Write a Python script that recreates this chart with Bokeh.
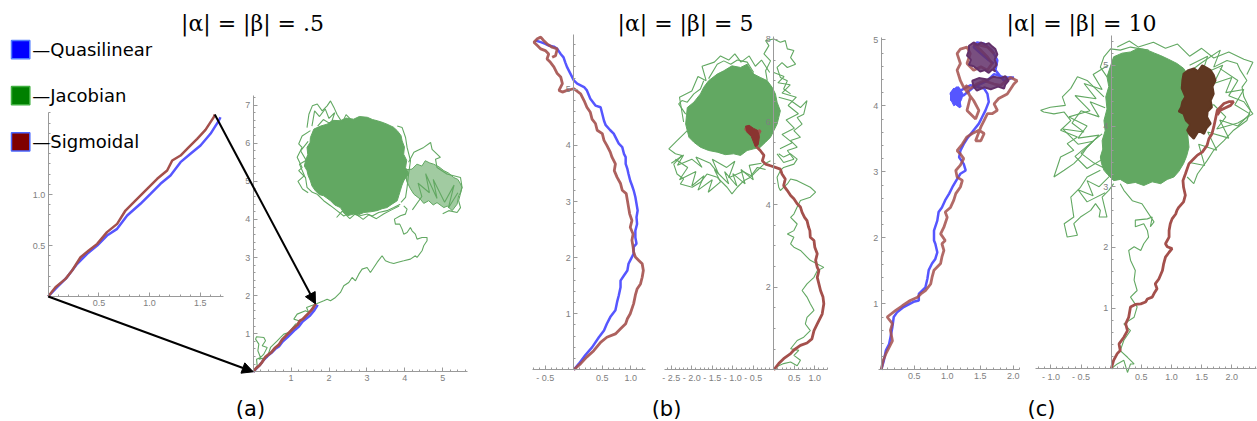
from bokeh.plotting import figure
from bokeh.models import (Range1d, LinearAxis, FixedTicker, Arrow, NormalHead, Label)
from bokeh.embed import file_html
from bokeh.resources import INLINE

W, H = 1257, 421

# ---------------------------------------------------------------- data
# (a)  |alpha| = |beta| = .5   (also shown enlarged in the inset)
A_BLUE_X = [0, 0.088, 0.187, 0.286, 0.384, 0.483, 0.58, 0.68, 0.779, 0.91, 1.009,
            1.107, 1.206, 1.305, 1.403, 1.502, 1.6, 1.683, 1.699]
A_BLUE_Y = [0, 0.091, 0.19, 0.32, 0.418, 0.5, 0.598, 0.663, 0.794, 0.909, 1.007,
            1.105, 1.186, 1.317, 1.399, 1.48, 1.595, 1.725, 1.758]
A_RED_X = [0, 0.072, 0.171, 0.236, 0.319, 0.40, 0.483, 0.58, 0.68, 0.762, 0.845,
           0.976, 1.075, 1.173, 1.223, 1.305, 1.387, 1.469, 1.551, 1.633, 1.643]
A_RED_Y = [0, 0.091, 0.173, 0.255, 0.385, 0.451, 0.516, 0.631, 0.712, 0.843, 0.925,
           1.056, 1.154, 1.235, 1.333, 1.382, 1.464, 1.546, 1.634, 1.758, 1.784]
A_GREEN_X = [0, 0.105, 0.088, 0.193, 0.123, 0.149, 0.062, 0.088, 0.281, 0.325,
             0.237, 0.369, 0.281, 0.149, 0.369, 0.457, 0.633, 0.721, 0.808, 0.94,
             1.116, 1.248, 1.204, 1.072, 1.16, 1.38, 1.467, 1.406, 1.599, 1.687,
             1.863, 1.951, 2.039, 2.171, 2.302, 2.39, 2.522, 2.61, 2.698, 2.786,
             2.873, 3.005, 3.093, 3.181, 3.269, 3.401, 3.489, 3.603, 3.708, 3.796,
             3.972, 4.148, 4.279, 4.323, 4.455, 4.499, 4.587, 4.587, 4.455, 4.323,
             4.279, 4.192, 4.148, 4.06, 3.972, 3.928, 3.866, 3.752, 3.726, 3.884,
             4.016, 4.06, 3.972]
A_GREEN_Y = [0, 0.157, 0.332, 0.376, 0.551, 0.726, 0.857, 0.919, 0.901, 0.814,
             0.682, 0.639, 0.464, 0.332, 0.376, 0.639, 0.814, 0.901, 0.989, 1.032,
             1.251, 1.269, 1.339, 1.382, 1.514, 1.601, 1.557, 1.689, 1.759, 1.794,
             1.864, 1.907, 1.864, 1.951, 2.082, 2.257, 2.345, 2.476, 2.388, 2.563,
             2.695, 2.738, 2.607, 2.738, 2.87, 3.045, 2.913, 2.87, 2.843, 2.87,
             2.913, 2.957, 3.045, 3.001, 3.176, 3.307, 3.438, 3.526, 3.526, 3.482,
             3.613, 3.701, 3.788, 3.657, 3.613, 3.745, 3.876, 3.876, 4.007, 4.094,
             4.138, 4.269, 4.357]
A_CORE_X = [1.60, 1.78, 1.95, 2.10, 2.30, 2.45, 2.65, 2.80, 3.01, 3.15, 3.27, 3.40,
            3.53, 3.70, 3.80, 3.90, 3.93, 3.99, 3.97, 4.05, 4.02, 4.10, 3.97, 3.92,
            3.88, 3.84, 3.80, 3.66, 3.53, 3.40, 3.27, 3.10, 2.92, 2.78, 2.65, 2.50,
            2.39, 2.30, 2.15, 2.04, 1.86, 1.75, 1.64, 1.55, 1.51, 1.45, 1.42, 1.35,
            1.38, 1.44, 1.42, 1.50, 1.51]
A_CORE_Y = [6.37, 6.45, 6.50, 6.60, 6.59, 6.66, 6.63, 6.70, 6.68, 6.62, 6.59, 6.55,
            6.50, 6.42, 6.33, 6.20, 6.06, 5.90, 5.71, 5.55, 5.36, 5.20, 5.01, 4.88,
            4.75, 4.62, 4.49, 4.40, 4.31, 4.28, 4.23, 4.20, 4.18, 4.12, 4.14, 4.10,
            4.18, 4.31, 4.38, 4.49, 4.62, 4.65, 4.75, 4.88, 5.01, 5.15, 5.28, 5.40,
            5.54, 5.70, 5.89, 6.02, 6.15]
A_SUB_X = [4.02, 4.19, 4.32, 4.45, 4.54, 4.66, 4.76, 4.90, 5.03, 5.15, 5.29, 5.40,
           5.47, 5.51, 5.47, 5.42, 5.38, 5.25, 5.12, 5.03, 4.85, 4.75, 4.63, 4.50,
           4.41, 4.24, 4.15, 4.05]
A_SUB_Y = [5.30, 5.32, 5.45, 5.40, 5.54, 5.48, 5.45, 5.38, 5.28, 5.22, 5.10, 5.05,
           4.93, 4.84, 4.70, 4.62, 4.40, 4.23, 4.35, 4.31, 4.44, 4.38, 4.49, 4.42,
           4.53, 4.66, 4.80, 5.00]
A_FRINGE_XS = [
    [1.42, 1.47, 1.56, 1.69, 1.82, 1.95, 2.04, 2.13, 2.21, 2.35, 2.45, 2.60],
    [1.55, 1.62, 1.75, 1.90, 2.00, 2.15, 2.05, 1.85, 1.70],
    [1.51, 1.29, 1.20, 1.29, 1.16, 1.29, 1.20, 1.38, 1.42, 1.56, 1.69],
    [1.69, 1.86, 2.04, 2.21, 2.39, 2.57, 2.79, 3.01, 3.14, 3.31, 3.53, 3.71, 3.88],
    [3.80, 3.93, 4.02, 4.06, 4.15, 4.10, 4.06, 4.02, 3.90],
    [4.10, 4.24, 4.32, 4.50, 4.68, 4.72, 4.94, 4.81, 4.85, 5.11, 5.47, 5.51, 5.42,
     5.47, 5.38, 5.16, 5.00],
    [1.45, 1.25, 1.40, 1.22, 1.35, 1.18, 1.30, 1.45],
    [2.20, 2.35, 2.55, 2.70, 2.90, 3.05, 3.25, 3.45, 3.65, 3.85],
    [4.20, 4.45, 4.35, 4.65, 4.55, 4.85, 4.75, 5.05, 5.30, 5.15, 5.40],
]
A_FRINGE_YS = [
    [6.41, 6.76, 6.98, 7.03, 6.85, 6.98, 7.11, 6.94, 6.76, 6.54, 6.75, 6.60],
    [6.45, 6.85, 6.70, 6.90, 6.65, 6.80, 6.50, 6.62, 6.45],
    [6.33, 6.19, 5.98, 5.89, 5.63, 5.36, 5.28, 5.10, 4.84, 4.71, 4.66],
    [4.66, 4.49, 4.36, 4.23, 4.09, 4.18, 4.09, 4.14, 4.09, 4.18, 4.23, 4.31, 4.40],
    [6.45, 6.41, 6.15, 5.89, 5.54, 5.19, 4.84, 4.58, 4.45],
    [5.50, 5.76, 5.80, 5.89, 6.02, 5.84, 5.63, 5.58, 5.36, 5.19, 5.10, 4.84, 4.49,
     4.31, 4.18, 4.23, 4.15],
    [6.05, 5.80, 5.55, 5.45, 5.15, 5.00, 4.80, 4.70],
    [4.05, 4.22, 4.02, 4.15, 4.00, 4.12, 4.02, 4.15, 4.25, 4.35],
    [4.25, 4.60, 4.95, 4.70, 5.20, 4.55, 5.05, 4.45, 4.90, 4.30, 4.70],
]

# (b)  |alpha| = |beta| = 5
BL_BLUE_X = [0, 0.09, 0.20, 0.32, 0.44, 0.53, 0.58, 0.64, 0.73, 0.76, 0.79, 0.82,
             0.82, 0.88, 0.94, 0.96, 0.99, 1.05, 1.05, 1.10, 1.08, 1.08, 1.11, 1.10,
             1.12, 1.10, 1.08, 1.05, 1.02, 0.99, 0.96, 0.94, 0.91, 0.91, 0.88, 0.85,
             0.79, 0.76, 0.70, 0.64, 0.56, 0.53, 0.50, 0.47, 0.38, 0.29, 0.23, 0.18,
             0.06, 0.0, -0.06, -0.12, -0.15, -0.18, -0.23, -0.29, -0.35, -0.44,
             -0.50, -0.58, -0.67]
BL_BLUE_Y = [0, 0.11, 0.26, 0.40, 0.58, 0.70, 0.82, 0.94, 1.06, 1.21, 1.33, 1.47,
             1.59, 1.68, 1.77, 1.89, 1.95, 2.07, 2.19, 2.25, 2.36, 2.48, 2.60, 2.72,
             2.84, 2.96, 3.08, 3.20, 3.29, 3.37, 3.49, 3.58, 3.67, 3.79, 3.85, 3.97,
             4.03, 4.09, 4.21, 4.27, 4.36, 4.44, 4.56, 4.68, 4.71, 4.83, 4.98, 5.04,
             5.10, 5.16, 5.28, 5.40, 5.48, 5.57, 5.63, 5.72, 5.76, 5.78, 5.81, 5.84,
             5.87]
BL_RED_X = [0, 0.12, 0.23, 0.35, 0.47, 0.58, 0.73, 0.82, 0.91, 0.94, 0.99, 1.05,
            1.08, 1.11, 1.17, 1.20, 1.22, 1.20, 1.14, 1.08, 1.05, 1.04, 1.02, 1.04,
            0.99, 1.02, 0.98, 0.96, 0.94, 0.92, 0.85, 0.82, 0.76, 0.71, 0.73, 0.67,
            0.64, 0.58, 0.53, 0.50, 0.41, 0.38, 0.32, 0.29, 0.23, 0.18, 0.12, 0.0,
            -0.12, -0.20, -0.26, -0.20, -0.23, -0.29, -0.35, -0.41, -0.47, -0.44,
            -0.50, -0.58, -0.64, -0.70, -0.64, -0.58, -0.53, -0.47, -0.38, -0.29,
            -0.32, -0.38]
BL_RED_Y = [0, 0.11, 0.23, 0.34, 0.49, 0.58, 0.64, 0.73, 0.82, 0.91, 1.00, 1.18,
            1.33, 1.44, 1.53, 1.65, 1.77, 1.89, 1.95, 2.01, 2.10, 2.19, 2.31, 2.42,
            2.54, 2.66, 2.78, 2.90, 3.02, 3.14, 3.20, 3.32, 3.43, 3.55, 3.67, 3.79,
            3.88, 4.00, 4.09, 4.21, 4.27, 4.39, 4.47, 4.59, 4.68, 4.80, 4.92, 5.01,
            4.98, 4.95, 4.98, 5.10, 5.22, 5.28, 5.40, 5.48, 5.54, 5.63, 5.69, 5.72,
            5.78, 5.84, 5.90, 5.93, 5.87, 5.81, 5.75, 5.72, 5.60, 5.57]

BR_RED_X = [0, 0.12, 0.24, 0.41, 0.49, 0.65, 0.81, 0.93, 0.98, 1.06, 1.10, 1.18,
            1.22, 1.20, 1.14, 1.10, 1.06, 1.10, 1.06, 1.02, 1.06, 1.00, 0.98, 0.89,
            0.88, 0.85, 0.81, 0.75, 0.69, 0.65, 0.57, 0.49, 0.41, 0.33, 0.24, 0.28,
            0.20, 0.16, 0.04, -0.08, -0.20, -0.28, -0.24, -0.33, -0.41, -0.45, -0.39,
            -0.42, -0.37, -0.33, -0.49, -0.57, -0.65, -0.69, -0.61, -0.53]
BR_RED_Y = [0, 0.15, 0.27, 0.39, 0.48, 0.59, 0.65, 0.75, 0.95, 1.11, 1.19, 1.35,
            1.60, 1.76, 1.92, 2.08, 2.24, 2.40, 2.48, 2.65, 2.81, 2.97, 3.13, 3.21,
            3.37, 3.45, 3.61, 3.69, 3.81, 3.94, 4.02, 4.14, 4.22, 4.34, 4.46, 4.62,
            4.74, 4.86, 4.90, 4.94, 4.98, 5.06, 5.19, 5.31, 5.39, 5.47, 5.55, 5.65,
            5.71, 5.79, 5.75, 5.79, 5.87, 5.83, 5.75, 5.69]
BR_KNOT_X = [-0.69, -0.60, -0.50, -0.40, -0.35, -0.38, -0.45, -0.55, -0.65]
BR_KNOT_Y = [5.90, 5.92, 5.85, 5.80, 5.65, 5.45, 5.40, 5.65, 5.75]
BR_GREEN_X = [0, 0.12, 0.24, 0.41, 0.57, 0.65, 0.49, 0.61, 0.41, 0.57, 0.73, 0.89,
              0.77, 0.81, 0.98, 0.89, 0.81, 0.69, 0.81, 0.98, 1.06, 1.22, 1.06, 0.89,
              0.81, 0.65, 0.49, 0.41, 0.49, 0.33, 0.49, 0.57, 0.41, 0.49, 0.57, 0.65,
              0.89, 1.02, 0.89, 0.73, 0.57, 0.41, 0.33, 0.24, 0.16, 0.12, 0.08, 0.16,
              0.24, 0.49, 0.57, 0.41, 0.24, 0.12]
BR_GREEN_Y = [0, 0.10, 0.15, 0.19, 0.10, 0.23, 0.35, 0.47, 0.51, 0.71, 0.79, 0.95,
              1.11, 1.27, 1.44, 1.60, 1.76, 1.92, 2.08, 2.24, 2.40, 2.48, 2.56, 2.65,
              2.73, 2.89, 2.97, 3.05, 3.21, 3.29, 3.37, 3.53, 3.69, 3.77, 3.94, 4.10,
              4.18, 4.30, 4.42, 4.50, 4.58, 4.62, 4.50, 4.42, 4.34, 4.42, 4.66, 4.82,
              4.90, 4.98, 5.10, 5.23, 5.15, 5.23]
BR_CORE_X = [-2.11, -1.95, -1.79, -1.71, -1.59, -1.38, -1.22, -1.02, -0.81, -0.65,
             -0.49, -0.33, -0.16, -0.04, 0.04, 0.08, 0.16, 0.12, 0.08, 0.0, -0.08,
             -0.20, -0.33, -0.49, -0.65, -0.81, -0.98, -1.18, -1.38, -1.59, -1.79,
             -1.95, -2.07, -2.11, -2.15, -2.13]
BR_CORE_Y = [6.35, 6.48, 6.68, 6.84, 7.00, 7.16, 7.24, 7.36, 7.32, 7.40, 7.16, 7.08,
             7.00, 6.84, 6.68, 6.48, 6.27, 6.11, 5.95, 5.79, 5.63, 5.51, 5.39, 5.35,
             5.31, 5.19, 5.23, 5.21, 5.27, 5.31, 5.39, 5.51, 5.63, 5.79, 5.95, 6.15]
BR_FRINGE_XS = [
    [-0.16, -0.20, -0.08, -0.24, -0.12, -0.20, 0.0, 0.16, 0.28, 0.33, 0.49, 0.41,
     0.53, 0.33, 0.20, 0.08, 0.16, 0.33, 0.24, 0.41],
    [0.12, 0.41, 0.65, 0.81, 0.73, 0.57, 0.69, 0.49, 0.65, 0.41, 0.57, 0.33, 0.49,
     0.24, 0.08],
    [-2.11, -2.36, -2.56, -2.40, -2.24, -2.44, -2.36, -2.20, -2.28, -1.99, -1.79,
     -1.63, -1.38, -1.14, -1.02, -0.89, -0.73, -0.57, -0.41, -0.24, -0.08],
    [-2.15, -2.32, -2.24, -2.11, -1.95, -1.79, -1.71],
    [-1.59, -1.38, -1.22, -1.05, -0.89, -0.65, -0.49],
    [-2.40, -2.10, -2.30, -1.90, -2.00, -1.70, -1.85, -1.50, -1.60, -1.30, -1.45,
     -1.10, -1.20, -0.90, -1.00, -0.70, -0.80, -0.50, -0.60, -0.30],
    [-2.50, -2.20, -2.35, -2.00, -1.75, -1.90, -1.55, -1.35, -1.50, -1.15, -0.95,
     -1.10, -0.75, -0.55, -0.40, -0.20],
    [-2.20, -2.30, -2.00, -1.85, -1.65, -1.75, -1.45, -1.30, -1.10, -0.95, -0.80,
     -0.60, -0.45, -0.30, -0.10],
    [0.00, 0.25, 0.10, 0.40, 0.20, 0.55, 0.35, 0.60, 0.30, 0.50, 0.20, 0.45, 0.15],
]
BR_FRINGE_YS = [
    [7.00, 7.24, 7.48, 7.65, 7.85, 7.97, 8.01, 7.93, 7.97, 7.77, 7.73, 7.56, 7.40,
     7.32, 7.44, 7.32, 7.08, 7.00, 6.80, 6.68],
    [6.60, 6.52, 6.35, 6.52, 6.19, 6.11, 5.95, 5.79, 5.63, 5.55, 5.39, 5.31, 5.10,
     5.02, 5.23],
    [5.79, 5.55, 5.35, 5.23, 5.19, 4.98, 4.74, 4.62, 4.50, 4.42, 4.54, 4.74, 4.66,
     4.42, 4.26, 4.42, 4.58, 4.66, 4.82, 4.98, 5.06],
    [6.19, 6.44, 6.52, 6.48, 6.68, 6.80, 7.00],
    [7.05, 7.40, 7.48, 7.40, 7.50, 7.45, 7.20],
    [5.10, 4.90, 4.60, 4.80, 4.45, 4.70, 4.35, 4.60, 4.30, 4.55, 4.85, 4.50, 4.80,
     4.45, 4.75, 4.50, 4.85, 4.60, 4.95, 5.00],
    [5.00, 5.20, 4.95, 5.10, 4.90, 5.15, 5.00, 4.75, 5.10, 4.90, 5.05, 4.65, 4.80,
     4.70, 4.90, 4.85],
    [6.00, 6.60, 6.75, 7.10, 7.00, 7.35, 7.45, 7.60, 7.50, 7.65, 7.45, 7.60, 7.35,
     7.50, 7.20],
    [7.20, 7.10, 6.95, 6.90, 6.70, 6.60, 6.40, 6.20, 6.05, 5.85, 5.70, 5.50, 5.35],
]

# (c)  |alpha| = |beta| = 10
CL_BLUE_X = [0, 0.04, 0.07, 0.12, 0.14, 0.17, 0.19, 0.24, 0.34, 0.49, 0.57, 0.57,
             0.62, 0.67, 0.70, 0.72, 0.77, 0.82, 0.85, 0.82, 0.80, 0.80, 0.85, 0.87,
             0.92, 0.97, 1.03, 1.08, 1.15, 1.20, 1.28, 1.25, 1.18, 1.20, 1.25, 1.30,
             1.40, 1.48, 1.53, 1.58, 1.63, 1.61, 1.56, 1.35, 1.20, 1.15, 1.10, 1.08,
             1.13, 1.20, 1.18, 1.05, 1.13, 1.20, 1.10, 1.18, 1.08, 1.25, 1.40, 1.61,
             1.71, 1.86, 2.01, 1.86, 1.73, 1.76, 1.68, 1.56, 1.45, 1.40, 1.51, 1.63,
             1.71]
CL_BLUE_Y = [0, 0.14, 0.29, 0.39, 0.49, 0.65, 0.80, 0.87, 0.95, 1.03, 1.05, 1.15,
             1.20, 1.25, 1.38, 1.51, 1.61, 1.68, 1.78, 1.91, 1.96, 2.11, 2.26, 2.39,
             2.46, 2.57, 2.67, 2.77, 2.89, 2.97, 3.02, 3.12, 3.22, 3.32, 3.42, 3.50,
             3.63, 3.73, 3.83, 3.93, 4.06, 4.18, 4.26, 4.31, 4.23, 4.28, 4.21, 4.13,
             4.03, 3.98, 4.08, 4.18, 4.26, 4.13, 4.06, 4.01, 4.11, 4.16, 4.28, 4.38,
             4.48, 4.43, 4.43, 4.38, 4.54, 4.69, 4.84, 4.94, 4.96, 4.89, 4.79, 4.69,
             4.64]
CL_BLUE_BLOB_X = [1.05, 1.10, 1.13, 1.17, 1.20, 1.24, 1.22, 1.19, 1.18, 1.13, 1.10,
                  1.07, 1.05]
CL_BLUE_BLOB_Y = [4.20, 4.27, 4.24, 4.29, 4.25, 4.18, 4.10, 4.04, 3.98, 4.02, 4.00,
                  4.06, 4.08]
CL_RED_X = [0, 0.03, 0.07, 0.12, 0.17, 0.14, 0.17, 0.09, 0.22, 0.32, 0.44, 0.55,
            0.60, 0.67, 0.75, 0.77, 0.80, 0.90, 0.92, 0.95, 0.92, 0.97, 0.90, 0.95,
            1.00, 0.97, 1.05, 1.10, 1.13, 1.20, 1.23, 1.15, 1.13, 1.20, 1.25, 1.20,
            1.15, 1.23, 1.30, 1.38, 1.48, 1.56, 1.51, 1.43, 1.51, 1.56, 1.61, 1.68,
            1.76, 1.71, 1.78, 1.91, 2.01, 2.06, 1.96, 1.81, 1.71, 1.56, 1.45, 1.35,
            1.28, 1.35, 1.30, 1.43, 1.48, 1.40, 1.25, 1.20, 1.15, 1.20, 1.15, 1.20,
            1.30, 1.35, 1.30, 1.40, 1.51, 1.61, 1.68, 1.61, 1.51, 1.40, 1.61, 1.71]
CL_RED_Y = [0, 0.14, 0.24, 0.34, 0.44, 0.60, 0.70, 0.80, 0.90, 0.97, 1.05, 1.10,
            1.15, 1.20, 1.30, 1.40, 1.51, 1.61, 1.71, 1.81, 1.91, 1.96, 2.06, 2.16,
            2.31, 2.39, 2.46, 2.57, 2.67, 2.77, 2.87, 2.92, 3.02, 3.10, 3.20, 3.27,
            3.32, 3.42, 3.53, 3.58, 3.63, 3.58, 3.47, 3.47, 3.68, 3.78, 3.88, 3.88,
            3.93, 4.03, 4.11, 4.18, 4.33, 4.38, 4.43, 4.31, 4.33, 4.38, 4.33, 4.26,
            4.31, 4.13, 3.93, 3.80, 3.93, 4.08, 4.28, 4.38, 4.54, 4.64, 4.79, 4.86,
            4.89, 4.79, 4.64, 4.54, 4.59, 4.54, 4.64, 4.74, 4.84, 4.94, 4.89, 4.79]
CL_KNOT_XS = [[1.33, 1.40, 1.46, 1.51, 1.58, 1.63, 1.68, 1.73, 1.76, 1.72, 1.75, 1.70,
               1.73, 1.68, 1.63, 1.57, 1.50, 1.45, 1.40, 1.33, 1.36, 1.30, 1.33],
              [1.38, 1.48, 1.61, 1.70, 1.81, 1.88, 1.93, 1.88, 1.86, 1.77, 1.66, 1.56,
               1.45, 1.40]]
CL_KNOT_YS = [[4.91, 4.96, 4.92, 4.96, 4.93, 4.95, 4.90, 4.86, 4.78, 4.70, 4.62, 4.56,
               4.52, 4.55, 4.50, 4.54, 4.52, 4.56, 4.60, 4.62, 4.70, 4.76, 4.84],
              [4.38, 4.42, 4.40, 4.44, 4.42, 4.45, 4.38, 4.32, 4.26, 4.29, 4.25, 4.28,
               4.23, 4.29]]

CR_RED_X = [0, 0.04, 0.10, 0.15, 0.13, 0.21, 0.27, 0.24, 0.29, 0.32, 0.40, 0.49,
            0.57, 0.60, 0.68, 0.71, 0.76, 0.73, 0.79, 0.85, 0.87, 0.90, 0.96, 1.01,
            0.93, 0.90, 0.96, 0.96, 0.98, 1.01, 1.07, 1.09, 1.12, 1.20, 1.23, 1.20,
            1.19, 1.23, 1.29, 1.37, 1.43, 1.51, 1.59, 1.62, 1.67, 1.70, 1.73, 1.76,
            1.81, 1.87, 1.95, 2.03, 1.98, 1.81, 1.76]
CR_RED_Y = [0, 0.14, 0.25, 0.30, 0.41, 0.52, 0.63, 0.74, 0.85, 1.02, 1.06, 1.07,
            1.10, 1.15, 1.18, 1.24, 1.32, 1.40, 1.48, 1.62, 1.73, 1.84, 1.92, 1.98,
            2.01, 2.06, 2.17, 2.28, 2.39, 2.47, 2.55, 2.61, 2.66, 2.75, 2.86, 2.99,
            3.10, 3.21, 3.38, 3.46, 3.52, 3.57, 3.68, 3.79, 3.87, 3.98, 4.12, 4.26,
            4.31, 4.37, 4.40, 4.40, 4.34, 4.26, 4.18]
CR_KNOT_X = [1.20, 1.28, 1.37, 1.44, 1.51, 1.58, 1.65, 1.70, 1.73, 1.68, 1.70, 1.65,
             1.67, 1.60, 1.59, 1.65, 1.58, 1.54, 1.45, 1.37, 1.30, 1.26, 1.31, 1.24,
             1.20, 1.12, 1.16, 1.18, 1.23, 1.17, 1.18]
CR_KNOT_Y = [4.86, 4.92, 4.95, 4.90, 5.00, 4.96, 4.92, 4.84, 4.75, 4.65, 4.53, 4.42,
             4.31, 4.24, 4.15, 4.04, 3.96, 3.87, 3.92, 3.79, 3.86, 3.93, 4.02, 4.09,
             4.20, 4.24, 4.31, 4.40, 4.48, 4.62, 4.75]
CR_GREEN_X = [0, 0.10, 0.21, 0.27, 0.32, 0.38, 0.27, 0.15, 0.21, 0.32, 0.21, 0.38,
              0.43, 0.32, 0.43, 0.38, 0.40, 0.32, 0.29, 0.38, 0.49, 0.54, 0.62, 0.60,
              0.54, 0.40, 0.40, 0.60, 0.68, 0.65, 0.71, 0.51, 0.35, 0.21, 0.15]
CR_GREEN_Y = [0, 0.08, 0.14, -0.06, 0.08, 0.08, 0.19, 0.30, 0.47, 0.63, 0.74, 0.85,
              1.02, 1.18, 1.29, 1.46, 1.62, 1.79, 1.95, 2.01, 1.95, 2.06, 2.17, 2.28,
              2.39, 2.34, 2.45, 2.47, 2.50, 2.34, 2.42, 2.72, 2.77, 2.94, 3.05]
CR_CORE_X = [0.04, 0.18, 0.32, 0.45, 0.60, 0.72, 0.82, 0.95, 1.09, 1.20, 1.26, 1.24,
             1.29, 1.33, 1.31, 1.27, 1.29, 1.25, 1.20, 1.12, 1.04, 0.93, 0.82, 0.68,
             0.54, 0.40, 0.27, 0.15, 0.04, -0.06, -0.12, -0.16, -0.18, -0.14, -0.15,
             -0.10, -0.12, -0.07, -0.09, -0.04, -0.07]
CR_CORE_Y = [5.14, 5.20, 5.22, 5.28, 5.25, 5.20, 5.16, 5.10, 5.03, 4.95, 4.86, 4.68,
             4.48, 4.25, 4.04, 3.85, 3.65, 3.50, 3.38, 3.25, 3.16, 3.12, 3.05, 3.08,
             3.02, 3.07, 3.05, 3.12, 3.10, 3.20, 3.27, 3.38, 3.49, 3.62, 3.76, 3.92,
             4.09, 4.28, 4.48, 4.65, 4.81]
CR_FRINGE_XS = [
    [-0.07, -0.18, -0.12, -0.01, 0.15, 0.32, 0.49, 0.62],
    [-0.12, -0.40, -0.56, -0.67, -0.81, -0.76, -1.01, -1.17, -1.12, -0.95, -0.78,
     -0.67, -0.84, -0.56, -0.73, -0.62, -0.84, -0.95, -0.78, -0.62, -0.51, -0.40,
     -0.29, -0.15],
    [-0.18, -0.40, -0.51, -0.67, -0.62, -0.78, -0.73, -0.56, -0.62, -0.51, -0.34,
     -0.26, -0.18, -0.20, -0.07, -0.15, -0.04, 0.04],
    [1.26, 1.48, 1.81, 1.70, 1.92, 2.09, 2.14, 2.25, 2.17, 2.20, 2.31, 2.25, 2.03,
     1.87, 1.70, 1.59, 1.43, 1.37, 1.26],
    [-0.05, -0.30, -0.15, -0.45, -0.25, -0.60, -0.35, -0.70, -0.40, -0.55, -0.20,
     -0.50, -0.30, -0.10],
    [-0.10, -0.35, -0.20, -0.50, -0.65, -0.45, -0.80, -0.55, -0.30, -0.60, -0.40,
     -0.15],
    [0.00, -0.20, -0.40, -0.30, -0.55, -0.40, -0.10],
    [1.30, 1.60, 1.50, 1.85, 1.70, 2.00, 1.90, 2.20, 2.05, 2.30, 2.10, 1.80, 1.95,
     1.60, 1.75, 1.45, 1.55, 1.30],
    [1.30, 1.55, 1.40, 1.70, 1.90, 1.75, 2.10, 2.35, 2.20, 1.95, 2.10, 1.80],
    [0.10, 0.30, 0.45, 0.70, 0.90, 1.10, 1.30, 1.50, 1.70, 1.95, 2.20, 2.35, 2.25],
]
CR_FRINGE_YS = [
    [4.81, 4.97, 5.14, 5.27, 5.25, 5.30, 5.27, 5.25],
    [4.48, 4.75, 4.81, 4.62, 4.48, 4.34, 4.31, 4.26, 4.23, 4.20, 4.23, 4.09, 3.93,
     3.82, 3.71, 3.60, 3.49, 3.16, 3.27, 3.38, 3.49, 3.65, 3.76, 3.87],
    [3.27, 3.16, 2.99, 2.83, 2.50, 2.39, 2.17, 2.20, 2.39, 2.50, 2.61, 2.72, 2.61,
     2.50, 2.50, 2.83, 2.94, 3.05],
    [4.86, 5.03, 5.25, 4.97, 5.08, 5.03, 4.92, 4.75, 4.64, 4.48, 4.26, 4.09, 3.93,
     3.76, 3.60, 3.43, 3.21, 3.05, 3.16],
    [5.00, 4.85, 4.60, 4.70, 4.45, 4.50, 4.25, 4.15, 4.00, 3.80, 3.85, 3.55, 3.40,
     3.30],
    [4.30, 4.40, 4.15, 4.25, 4.05, 3.90, 3.95, 3.70, 3.75, 3.50, 3.30, 3.45],
    [3.20, 3.00, 3.10, 2.85, 2.95, 2.75, 2.90],
    [5.00, 5.15, 4.85, 5.00, 4.70, 4.80, 4.55, 4.60, 4.35, 4.20, 4.00, 4.10, 3.80,
     3.90, 3.60, 3.70, 3.35, 3.40],
    [4.60, 4.50, 4.30, 4.35, 4.15, 3.95, 4.05, 4.20, 4.40, 4.50, 4.75, 4.95],
    [5.30, 5.40, 5.30, 5.38, 5.28, 5.35, 5.15, 5.28, 5.12, 5.22, 5.10, 5.05, 4.85],
]

# axis ticks and their labels
A_XTICKS, A_XLABELS = [1, 2, 3, 4, 5], ["1", "2", "3", "4", "5"]
A_YTICKS, A_YLABELS = [1, 2, 3, 4, 5, 6, 7], ["1", "2", "3", "4", "5", "6", "7"]
AIN_XTICKS, AIN_XLABELS = [0.5, 1.0, 1.5], ["0.5", "1.0", "1.5"]
AIN_YTICKS, AIN_YLABELS = [0.5, 1.0], ["0.5", "1.0"]
BL_XTICKS, BL_XLABELS = [-0.5, 0.5, 1.0], ["- 0.5", "0.5", "1.0"]
BL_YTICKS, BL_YLABELS = [1, 2, 3, 4, 5], ["1", "2", "3", "4", "5"]
BR_XTICKS = [-2.5, -2.0, -1.5, -1.0, -0.5, 0.5, 1.0]
BR_XLABELS = ["- 2.5", "- 2.0", "- 1.5", "- 1.0", "- 0.5", "0.5", "1.0"]
BR_YTICKS, BR_YLABELS = [2, 4, 6, 8], ["2", "4", "6", "8"]
CL_XTICKS, CL_XLABELS = [0.5, 1.0, 1.5, 2.0], ["0.5", "1.0", "1.5", "2.0"]
CL_YTICKS, CL_YLABELS = [1, 2, 3, 4, 5], ["1", "2", "3", "4", "5"]
CR_XTICKS = [-1.0, -0.5, 0.5, 1.0, 1.5, 2.0]
CR_XLABELS = ["- 1.0", "- 0.5", "0.5", "1.0", "1.5", "2.0"]
CR_YTICKS, CR_YLABELS = [1, 2, 3, 4, 5], ["1", "2", "3", "4", "5"]

TITLES = ["|α| = |β| = .5", "|α| = |β| = 5", "|α| = |β| = 10"]
PANEL_TAGS = ["(a)", "(b)", "(c)"]
SERIES = ["—Quasilinear", "—Jacobian", "—Sigmoidal"]
KEY_FILL = ["#0000ff", "#008000", "#800000"]
KEY_EDGE = ["#4f7dff", "#3fb03f", "#4a66ff"]

# ---------------------------------------------------------------- styling
GREEN = "#62a862"
BLUE = "#5656ff"
RED = "#a4504c"
AXIS_C = "#9a9a9a"

# placement of each small plot: origin (px) and pixels per unit
PANELS = {
    "ain": (47.7, 296.0, 101.4, 102.0),
    "a": (252.7, 371.3, 37.9, 38.1),
    "bl": (573.3, 369.3, 57.0, 56.1),
    "br": (773.3, 369.3, 41.0, 41.3),
    "cl": (880.7, 369.3, 66.0, 66.0),
    "cr": (1110.7, 368.3, 60.3, 60.7),
}

p = figure(width=W, height=H, x_range=Range1d(0, W), y_range=Range1d(H, 0),
           x_axis_type=None, y_axis_type=None, output_backend="svg",
           toolbar_location=None, min_border=0, outline_line_color=None)

xr, yr = {}, {}
for name, (x0, y0, sx, sy) in PANELS.items():
    xr[name] = Range1d(-x0 / sx, (W - x0) / sx)
    yr[name] = Range1d((y0 - H) / sy, y0 / sy)
p.extra_x_ranges = xr
p.extra_y_ranges = yr


def rn(name):
    return dict(x_range_name=name, y_range_name=name)


def steps(lo, hi, d):
    n = int(round((hi - lo) / d))
    return [round(lo + i * d, 3) for i in range(n + 1)]


def add_axes(name, xb, yb, xt, xl, yt, yl, xminor, yminor):
    common = dict(axis_line_color=AXIS_C, axis_line_width=1,
                  major_tick_line_color=AXIS_C, minor_tick_line_color=AXIS_C,
                  major_tick_in=4, major_tick_out=0, minor_tick_in=2, minor_tick_out=0,
                  major_label_text_font="Liberation Sans",
                  major_label_text_font_size="9px",
                  major_label_text_color="#808080", major_label_standoff=3,
                  fixed_location=0, **rn(name))
    xa = LinearAxis(bounds=xb, ticker=FixedTicker(ticks=xt, minor_ticks=xminor),
                    major_label_overrides=dict(zip(xt, xl)), **common)
    ya = LinearAxis(bounds=yb, ticker=FixedTicker(ticks=yt, minor_ticks=yminor),
                    major_label_overrides=dict(zip(yt, yl)), **common)
    p.add_layout(xa, "below")
    p.add_layout(ya, "left")


add_axes("ain", (0, 1.73), (0, 1.8), AIN_XTICKS, AIN_XLABELS, AIN_YTICKS, AIN_YLABELS,
         steps(0, 1.7, 0.1), steps(0, 1.8, 0.1))
add_axes("a", (0, 5.65), (0, 7.25), A_XTICKS, A_XLABELS, A_YTICKS, A_YLABELS,
         steps(0, 5.6, 0.2), steps(0, 7.2, 0.2))
add_axes("bl", (-0.73, 1.26), (0, 5.97), BL_XTICKS, BL_XLABELS, BL_YTICKS, BL_YLABELS,
         steps(-0.7, 1.2, 0.1), steps(0, 5.8, 0.2))
add_axes("br", (-2.67, 1.31), (0, 8.07), BR_XTICKS, BR_XLABELS, BR_YTICKS, BR_YLABELS,
         steps(-2.6, 1.3, 0.1), steps(0, 8.0, 0.5))
add_axes("cl", (-0.04, 2.1), (0, 5.04), CL_XTICKS, CL_XLABELS, CL_YTICKS, CL_YLABELS,
         steps(0, 2.1, 0.1), steps(0, 5.0, 0.2))
add_axes("cr", (-1.25, 2.41), (0, 5.49), CR_XTICKS, CR_XLABELS, CR_YTICKS, CR_YLABELS,
         steps(-1.2, 2.4, 0.1), steps(0, 5.4, 0.2))

# ---- (a): Jacobian cloud, then the two nearly identical paths
p.patch(A_CORE_X, A_CORE_Y, fill_color=GREEN, line_color=GREEN, **rn("a"))
p.patch(A_SUB_X, A_SUB_Y, fill_color=GREEN, fill_alpha=0.6, line_color=GREEN, **rn("a"))
p.multi_line(A_FRINGE_XS, A_FRINGE_YS, line_color=GREEN, line_width=1.1, **rn("a"))
p.line(A_GREEN_X, A_GREEN_Y, line_color=GREEN, line_width=1.1, **rn("a"))
p.line(A_BLUE_X, A_BLUE_Y, line_color=BLUE, line_width=2.5, **rn("a"))
p.line(A_RED_X, A_RED_Y, line_color=RED, line_width=2.8, **rn("a"))
# inset: the start of both paths enlarged
p.line(A_BLUE_X, A_BLUE_Y, line_color=BLUE, line_width=2.5, **rn("ain"))
p.line(A_RED_X, A_RED_Y, line_color=RED, line_width=2.5, **rn("ain"))


def to_a(name, x, y):
    """Express a point of panel `name` in the units of panel "a"."""
    x0, y0, sx, sy = PANELS[name]
    ax0, ay0, asx, asy = PANELS["a"]
    return (x0 + x * sx - ax0) / asx, (ay0 - (y0 - y * sy)) / asy


for i in (-1, 0):
    sx_, sy_ = to_a("ain", A_RED_X[i], A_RED_Y[i])
    p.add_layout(Arrow(end=NormalHead(size=11, fill_color="black", line_color="black"),
                       x_start=sx_, y_start=sy_, x_end=A_RED_X[i], y_end=A_RED_Y[i],
                       line_color="black", line_width=2, **rn("a")))

# ---- (b)
p.line(BL_BLUE_X, BL_BLUE_Y, line_color=BLUE, line_width=2.5, **rn("bl"))
p.line(BL_RED_X, BL_RED_Y, line_color=RED, line_width=2.8, line_alpha=0.9, **rn("bl"))

p.patch(BR_CORE_X, BR_CORE_Y, fill_color=GREEN, line_color=GREEN, **rn("br"))
p.multi_line(BR_FRINGE_XS, BR_FRINGE_YS, line_color=GREEN, line_width=1.1, **rn("br"))
p.line(BR_GREEN_X, BR_GREEN_Y, line_color=GREEN, line_width=1.1, **rn("br"))
p.line(BR_RED_X, BR_RED_Y, line_color=RED, line_width=2.8, **rn("br"))
p.patch(BR_KNOT_X, BR_KNOT_Y, fill_color="#8a3430", line_color="#8a3430", **rn("br"))

# ---- (c)
p.line(CL_BLUE_X, CL_BLUE_Y, line_color=BLUE, line_width=2.5, **rn("cl"))
p.patch(CL_BLUE_BLOB_X, CL_BLUE_BLOB_Y, fill_color=BLUE, line_color=BLUE, **rn("cl"))
p.line(CL_RED_X, CL_RED_Y, line_color=RED, line_width=2.8, line_alpha=0.85, **rn("cl"))
p.patches(CL_KNOT_XS, CL_KNOT_YS, fill_color="#62306a", line_color="#62306a",
          fill_alpha=0.85, line_width=2, **rn("cl"))

p.patch(CR_CORE_X, CR_CORE_Y, fill_color=GREEN, line_color=GREEN, **rn("cr"))
p.multi_line(CR_FRINGE_XS, CR_FRINGE_YS, line_color=GREEN, line_width=1.1, **rn("cr"))
p.line(CR_GREEN_X, CR_GREEN_Y, line_color=GREEN, line_width=1.1, **rn("cr"))
p.line(CR_RED_X, CR_RED_Y, line_color=RED, line_width=2.8, **rn("cr"))
p.patch(CR_KNOT_X, CR_KNOT_Y, fill_color="#603822", line_color="#603822",
        line_width=2, **rn("cr"))

# ---- titles and panel tags
for txt, cx in zip(TITLES, (252, 685, 1081)):
    p.add_layout(Label(x=cx, y=23, text=txt, text_align="center",
                       text_baseline="middle", text_font="DejaVu Serif",
                       text_font_size="22px", text_color="black"))
for txt, cx in zip(PANEL_TAGS, (250, 666, 1041)):
    p.add_layout(Label(x=cx, y=408, text=txt, text_align="center",
                       text_baseline="middle", text_font="DejaVu Sans",
                       text_font_size="21px", text_color="black"))

# ---- key: coloured squares followed by the method names
KEY_LEFT, KEY_SIZE, KEY_TOPS = 11, 18.3, [40, 86, 132.3]
p.quad(left=[KEY_LEFT] * 3, right=[KEY_LEFT + KEY_SIZE] * 3, top=KEY_TOPS,
       bottom=[t + KEY_SIZE for t in KEY_TOPS], fill_color=KEY_FILL,
       line_color=KEY_EDGE, line_width=1.5)
for lab, t in zip(SERIES, KEY_TOPS):
    p.add_layout(Label(x=KEY_LEFT + KEY_SIZE + 2.5, y=t + KEY_SIZE / 2, text=lab,
                       text_align="left", text_baseline="middle",
                       text_font="DejaVu Sans", text_font_size="18px",
                       text_color="black"))

open("out.html", "w").write(file_html(p, INLINE))
